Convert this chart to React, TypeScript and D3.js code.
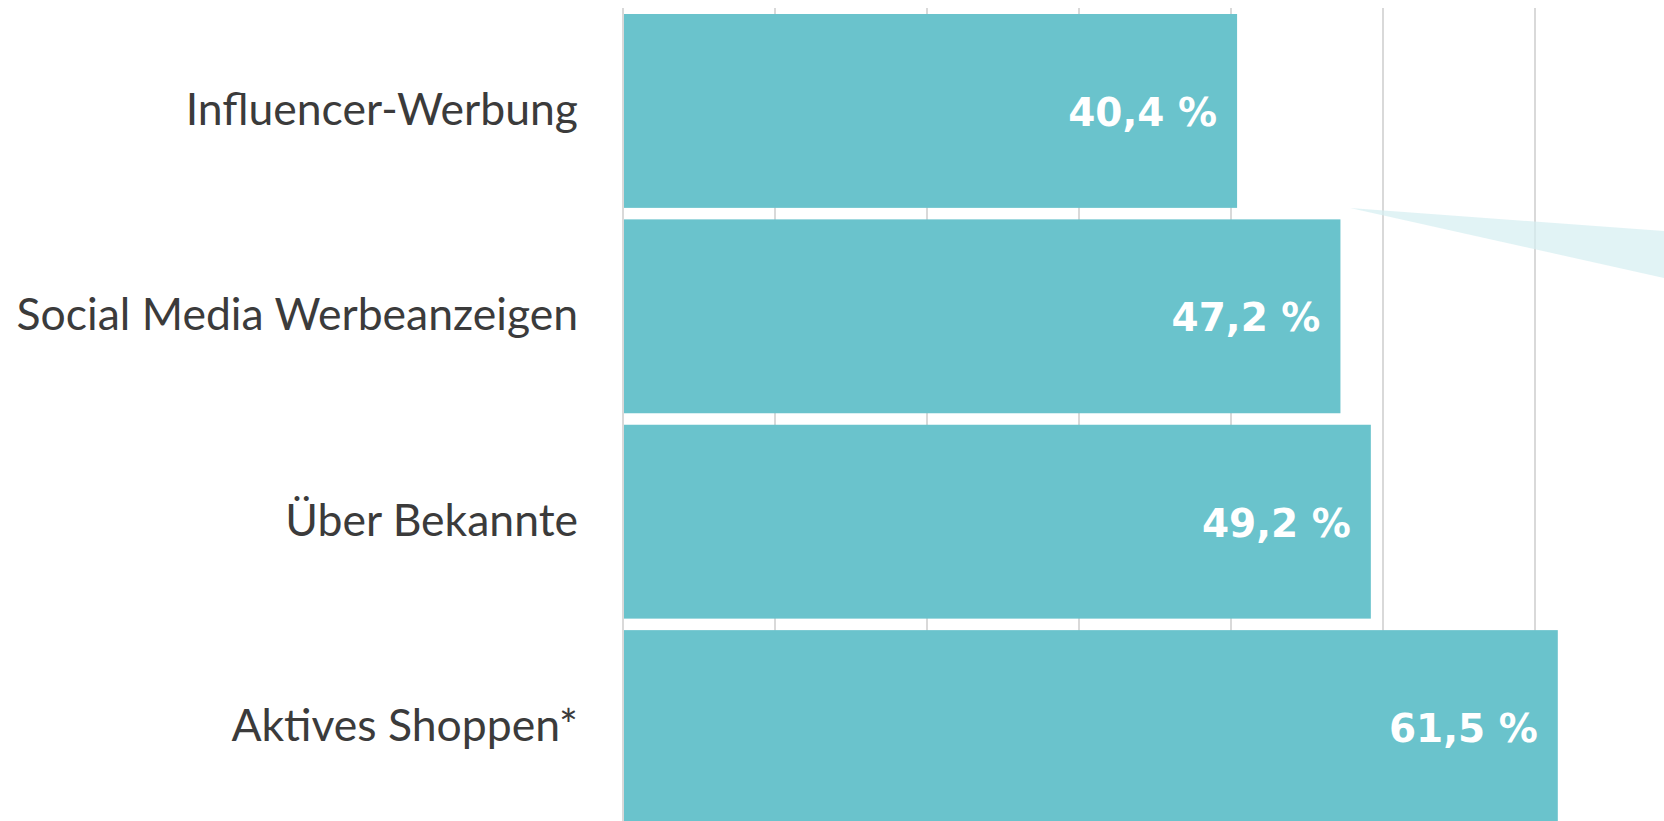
import { useEffect, useRef } from "react";
import * as d3 from "d3";

const categories = ["Influencer-Werbung", "Social Media Werbeanzeigen", "Über Bekannte", "Aktives Shoppen*"];
const values = [40.4, 47.2, 49.2, 61.5];
const gridTicks = [0, 10, 20, 30, 40, 50, 60];

const W = 1664;
const H = 821;

const App = () => {
  const svgRef = useRef<SVGSVGElement>(null);

  useEffect(() => {
    const svg = d3.select(svgRef.current);
    svg.selectAll("*").remove();

    const x = d3.scaleLinear().domain([0, 10]).range([623, 775]);
    const y = d3.scaleBand().domain(categories).range([14, 824]).paddingInner(0.056).paddingOuter(0);

    svg.append("rect").attr("width", W).attr("height", H).attr("fill", "#ffffff");

    // gridlines
    svg.append("g")
      .selectAll("line")
      .data(gridTicks)
      .enter()
      .append("line")
      .attr("x1", d => x(d))
      .attr("x2", d => x(d))
      .attr("y1", 8)
      .attr("y2", H)
      .attr("stroke", "#d9d9d9")
      .attr("stroke-width", 2);

    // callout pointer
    svg.append("path")
      .attr("d", "M1350,208 L1664,231 L1664,278 Z")
      .attr("fill", "#d4eef1")
      .attr("fill-opacity", 0.7);

    // bars
    svg.append("g")
      .selectAll("rect")
      .data(values)
      .enter()
      .append("rect")
      .attr("x", x(0) + 1)
      .attr("y", (d, i) => y(categories[i]))
      .attr("width", d => x(d) - x(0) - 1)
      .attr("height", y.bandwidth())
      .attr("fill", "#6ac3cc");

    // value labels
    svg.append("g")
      .selectAll("text")
      .data(values)
      .enter()
      .append("text")
      .attr("x", d => x(d) - 20)
      .attr("y", (d, i) => y(categories[i]) + y.bandwidth() / 2 + 15)
      .attr("text-anchor", "end")
      .attr("fill", "#ffffff")
      .attr("font-family", "DejaVu Sans, Verdana, sans-serif")
      .attr("font-weight", "bold")
      .attr("font-size", "39px")
      .text(d => d.toFixed(1).replace(".", ",") + " %");

    // category labels
    svg.append("g")
      .selectAll("text")
      .data(categories)
      .enter()
      .append("text")
      .attr("x", 578)
      .attr("y", d => y(d) + y.bandwidth() / 2 + 14)
      .attr("text-anchor", "end")
      .attr("fill", "#3b3b3b")
      .attr("font-family", "Lato, sans-serif")
      .attr("font-size", "44.5px")
      .text(d => d);
  }, []);

  return (
    <svg
      ref={svgRef}
      width={W}
      height={H}
      style={{ position: "absolute", left: 0, top: 0, display: "block" }}
    ></svg>
  );
};

export default App;
